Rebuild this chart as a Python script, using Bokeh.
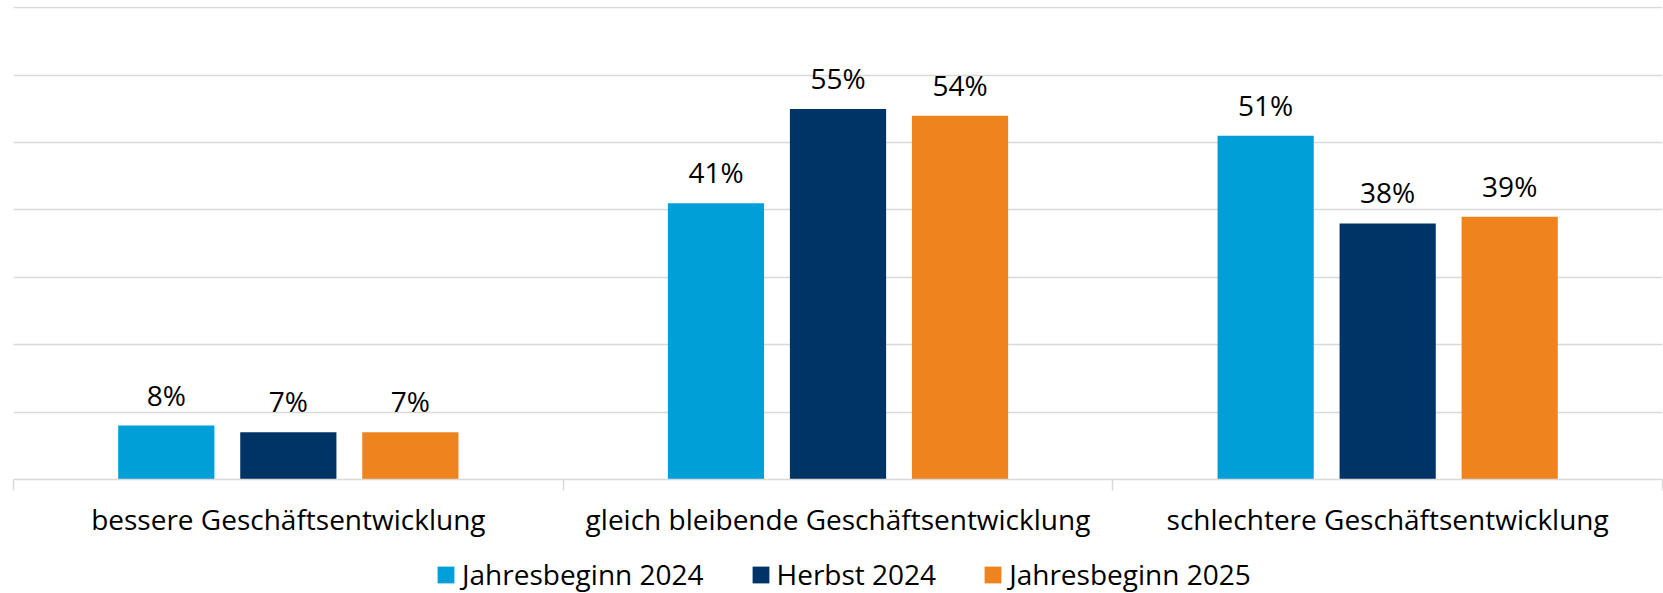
from bokeh.plotting import figure
from bokeh.layouts import column
from bokeh.models import ColumnDataSource, Range1d, FixedTicker, LabelSet, Legend, LegendItem
from bokeh.core.properties import value
from bokeh.embed import file_html
from bokeh.resources import INLINE

categories = [
    "bessere Geschäftsentwicklung",
    "gleich bleibende Geschäftsentwicklung",
    "schlechtere Geschäftsentwicklung",
]
series = ["Jahresbeginn 2024", "Herbst 2024", "Jahresbeginn 2025"]
jahresbeginn_2024 = [8, 41, 51]
herbst_2024 = [7, 55, 38]
jahresbeginn_2025 = [7, 54, 39]
colors = ["#009fd7", "#003466", "#ef841e"]

FONT = "Open Sans"
FS = "28px"
GRID = "#d9d9d9"

p = figure(
    frame_width=1649, frame_height=473,
    x_range=Range1d(0, len(categories)), y_range=Range1d(0, 70.2),
    output_backend="svg", toolbar_location=None,
    min_border_left=13, min_border_right=1, min_border_top=6, min_border_bottom=0,
)
p.outline_line_color = None
p.background_fill_color = "white"
p.border_fill_color = "white"

offsets = [-0.222, 0.0, 0.222]
bar_w = 0.175
for name, vals, col, off in zip(series, [jahresbeginn_2024, herbst_2024, jahresbeginn_2025], colors, offsets):
    xs = [i + 0.5 + off for i in range(len(categories))]
    src = ColumnDataSource(dict(x=xs, top=vals, label=[f"{v}%" for v in vals]))
    p.vbar(x="x", top="top", width=bar_w, source=src, fill_color=col, line_color=None)
    p.add_layout(LabelSet(
        x="x", y="top", text="label", source=src,
        text_align="center", text_baseline="alphabetic", y_offset=20,
        text_font=value(FONT), text_font_size=value(FS), text_color="#000000",
    ))

# y grid only
p.yaxis.visible = False
p.ygrid.ticker = FixedTicker(ticks=list(range(0, 71, 10)))
p.ygrid.grid_line_color = GRID
p.ygrid.grid_line_width = 1.5
p.xgrid.visible = False

ax = p.xaxis[0]
centers = [i + 0.5 for i in range(len(categories))]
ax.ticker = FixedTicker(ticks=centers, minor_ticks=list(range(len(categories) + 1)))
ax.major_label_overrides = {c: cat for c, cat in zip(centers, categories)}
ax.major_tick_line_color = None
ax.major_tick_out = 11
ax.major_tick_in = 0
ax.minor_tick_line_color = GRID
ax.minor_tick_line_width = 1.5
ax.minor_tick_out = 11
ax.minor_tick_in = 0
ax.axis_line_color = GRID
ax.axis_line_width = 1.5
ax.major_label_text_font = FONT
ax.major_label_text_font_size = FS
ax.major_label_text_color = "#000000"
ax.major_label_standoff = 9

# legend strip below the chart
lg = figure(
    width=1663, height=54, x_range=Range1d(0, 1), y_range=Range1d(0, 1),
    output_backend="svg", toolbar_location=None,
    x_axis_location=None, y_axis_location=None,
    min_border_left=0, min_border_right=0, min_border_top=0, min_border_bottom=0,
)
lg.outline_line_color = None
lg.grid.visible = False
items = []
for name, col in zip(series, colors):
    # zero-height proxy bar: only its legend swatch is seen
    r = lg.vbar(x=[0], top=[0], width=0.1, fill_color=col, line_color=None)
    items.append(LegendItem(label=name, renderers=[r]))
legend = Legend(
    items=items, orientation="horizontal", location=(422, 1),
    glyph_width=21, glyph_height=21, label_standoff=6, spacing=46,
    label_text_font=FONT, label_text_font_size=FS, label_text_color="#000000",
    border_line_color=None, background_fill_alpha=0, margin=0, padding=0,
)
lg.add_layout(legend, "center")

layout = column(p, lg, spacing=0)
open("out.html", "w").write(file_html(layout, INLINE))
